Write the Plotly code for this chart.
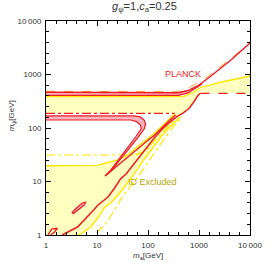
import plotly.graph_objects as go

# ---------------- data (GeV) ----------------
# ID-excluded region boundaries
ytop_x = [1, 492, 756, 1067, 2748, 10000]
ytop_y = [385, 385, 461, 572, 724, 938]

yrb_x = [10000, 1067, 938, 789, 637, 492]
yrb_y = [445, 445, 396, 306, 231, 191]

y2_x = [432, 320, 208, 135, 87.9, 57.1, 31.3, 18.7, 14.4, 10.7, 7.56, 5.13, 4.3]
y2_y = [161, 124, 80.7, 48.1, 27.5, 15.1, 6.94, 3.96, 3.34, 2.17, 1.41, 1.09, 1]

yleft_x = [1, 10, 13.8, 17.9, 24.2, 31.3, 40.5, 57.1, 87.9, 135, 208, 293, 334]
yleft_y = [19.7, 20, 21.7, 23.1, 25.2, 27.5, 32, 42.3, 58.4, 80.7, 119, 161, 188]

# yellow dash-dot lines
ydd1_x = [1, 57.1, 87.9, 135, 208, 320]
ydd1_y = [31.3, 31.3, 37.2, 57.2, 87.9, 141]
ydd2_x = [9.8, 15.1, 22.2, 31.3, 57.1, 87.9, 135, 208, 320, 451]
ydd2_y = [1.09, 1.68, 2.93, 5.13, 10.7, 19.5, 35.6, 62.3, 109, 154]

# Planck band (upper)
pl1_x = [1, 396, 610, 938, 1442, 2415, 4227, 6501, 10000]
pl1_y = [465, 455, 502, 610, 824, 1213, 1866, 2692, 3880]
pl2_x = [1, 396, 610, 861, 1067, 1161]
pl2_y = [408, 408, 451, 548, 637, 679]
plo_x = [1, 396, 610, 938, 1442, 2415, 4227, 9180]
plo_y = [485, 475, 548, 693, 898, 1322, 2034, 3560]

# red dashed lines
rd1_x = [1067, 10000]
rd1_y = [445, 445]
rd2_x = [1, 334]
rd2_y = [188, 188]

# main red curve
rc_x = [1067, 938, 789, 637, 492, 380, 269, 191, 135, 87.9, 57.1, 37.2, 28.7,
        22.2, 16.4, 12.1, 10.2, 8.6, 5.59, 4.14, 2.69, 2.08]
rc_y = [445, 396, 306, 231, 191, 166, 129, 95.8, 66.4, 39.6, 23.1, 13.8, 11.1,
        7.56, 5.13, 4.14, 3.56, 2.93, 1.91, 1.41, 1.14, 1]

# lens band (lower Planck branch)
lo_x = [1, 52.5, 70.8, 84.1, 89.8, 84.1, 62.3, 40.5, 26.3, 18.7, 14.4]
lo_y = [168, 168, 161, 141, 119, 95.8, 65, 38.8, 23.1, 15.7, 12.7]
li_x = [1, 46.1, 59.7, 70.8, 74, 57.1, 37.2, 24.7, 17.9, 14.4]
li_y = [141, 141, 132, 114, 97.9, 67.9, 39.6, 23.6, 15.7, 12.7]
arm_x = [14.4, 22.2, 37.2, 62.3, 95.8, 135, 191, 269, 348]
arm_y = [12.7, 17.9, 27.5, 42.3, 57.2, 74, 104, 141, 175]

# small islands
isl_x = [3.2, 3.96, 5.13, 6.1, 5.59, 4.32, 3.48, 3.2]
isl_y = [2.58, 3.2, 3.96, 4.14, 3.64, 2.93, 2.52, 2.58]
isl2_x = [1.09, 1.29, 1.68, 1.47, 1.24]
isl2_y = [1, 1.29, 1.35, 1.14, 1]

# axis ticks
tick_vals = [1, 10, 100, 1000, 10000]
tick_text = ["1", "10", "100", "1000", "10\u2009000"]

# ---------------- styles ----------------
YFILL = "#ffffbf"
YLINE = "#ffe600"
RED = "#ec1c24"
PINK = "#ffb3bd"
ORANGE = "#ff9a2e"

fig = go.Figure()

# yellow excluded region
poly_x = ytop_x + yrb_x + y2_x + [1] + yleft_x + [1]
poly_y = ytop_y + yrb_y + y2_y + [1] + yleft_y + [188]
fig.add_trace(go.Scatter(x=poly_x, y=poly_y, fill="toself", fillcolor=YFILL,
                         mode="none", hoverinfo="skip"))

def line(x, y, color, width=1.3, dash="solid"):
    fig.add_trace(go.Scatter(x=x, y=y, mode="lines",
                             line=dict(color=color, width=width, dash=dash),
                             hoverinfo="skip"))

line(ytop_x, ytop_y, YLINE, 1.3)
line(yleft_x, yleft_y, YLINE, 1.3)
line(y2_x, y2_y, YLINE, 1.3)
line(ydd1_x, ydd1_y, YLINE, 1.2, "dashdot")
line(ydd2_x, ydd2_y, YLINE, 1.2, "dashdot")

# pink bands
fig.add_trace(go.Scatter(x=pl1_x[:4] + pl2_x[::-1], y=pl1_y[:4] + pl2_y[::-1],
                         fill="toself", fillcolor=PINK, mode="none", hoverinfo="skip"))
fig.add_trace(go.Scatter(x=lo_x + li_x[::-1], y=lo_y + li_y[::-1],
                         fill="toself", fillcolor=PINK, mode="none", hoverinfo="skip"))
fig.add_trace(go.Scatter(x=isl_x, y=isl_y, fill="toself", fillcolor=PINK,
                         mode="lines", line=dict(color=RED, width=1.2), hoverinfo="skip"))

line(plo_x, plo_y, ORANGE, 1.0, "dash")
line(pl1_x, pl1_y, RED, 1.4)
line(pl2_x, pl2_y, RED, 1.3)
line(rd1_x, rd1_y, RED, 1.3, "dash")
line(rd2_x, rd2_y, RED, 1.2, "dashdot")
line(rc_x, rc_y, RED, 1.5)
line(lo_x, lo_y, RED, 1.2)
line(li_x, li_y, RED, 1.2)
line(arm_x, arm_y, RED, 1.4)
line(isl2_x, isl2_y, RED, 1.3)

minor_vals = [10 ** (d + k / 5) for d in range(4) for k in range(1, 5)]

axis_common = dict(
    type="log", range=[0, 4], showgrid=False, zeroline=False,
    showline=True, linecolor="black", linewidth=1, mirror="allticks",
    ticks="inside", ticklen=5, tickwidth=1, tickcolor="black",
    tickmode="array", tickvals=tick_vals, ticktext=tick_text,
    tickfont=dict(family="Liberation Sans, Arial, sans-serif", size=8, color="#333"),
    minor=dict(tickmode="array", tickvals=minor_vals, ticks="inside",
               ticklen=3, tickwidth=1, tickcolor="black", showgrid=False),
)

fig.update_layout(
    width=274, height=264,
    margin=dict(l=46, r=14, t=21, b=29),
    paper_bgcolor="white", plot_bgcolor="white",
    showlegend=False,
    xaxis=dict(axis_common, ticklabelstandoff=2),
    yaxis=dict(axis_common, ticklabelstandoff=2),
    font=dict(family="Liberation Sans, Arial, sans-serif", color="#333"),
)

ann = [
    dict(text="<i>g</i><sub>ψ</sub>=1,<i>c</i><sub>a</sub>=0.25", x=0.481, y=1.065,
         font=dict(size=11, color="#333")),
    dict(text="<i>m</i><sub>a</sub>[GeV]", x=0.5, y=-0.098, font=dict(size=8, color="#333")),
    dict(text="<i>m</i><sub>ψ</sub>[GeV]", x=-0.165, y=0.556, textangle=-90,
         font=dict(size=8, color="#333")),
    dict(text="PLANCK", x=0.673, y=0.752, font=dict(size=9, color=RED)),
    dict(text="ID Excluded", x=0.393, y=0.248, xanchor="left",
         font=dict(size=9, color="#b5a500")),
]
for a in ann:
    a.setdefault("xanchor", "center")
    fig.add_annotation(xref="paper", yref="paper", showarrow=False,
                       yanchor="middle", **a)

fig.write_html("out.html", config={"displayModeBar": False},
               post_script="document.body.style.margin='0px';document.body.style.padding='0px';")
